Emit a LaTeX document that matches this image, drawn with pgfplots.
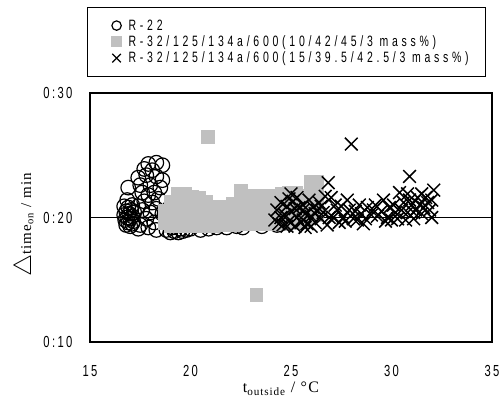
\documentclass[border=0pt]{standalone}
\usepackage{fontspec}
\setmainfont{Liberation Sans}
\newfontfamily\tickfont{Liberation Sans}[FakeStretch=0.7,LetterSpace=15]
\newfontfamily\legfont{Liberation Sans}[FakeStretch=0.7,LetterSpace=25]
\newfontfamily\labfont{Liberation Serif}[LetterSpace=8]
\usepackage{pgfplots}
\pgfplotsset{compat=1.18}
\definecolor{sq}{RGB}{192,192,192}
\begin{document}
\begin{tikzpicture}
\path[use as bounding box] (-90pt,-57pt) rectangle (410pt,342pt);
\begin{axis}[
  scale only axis, width=402pt, height=249pt,
  xmin=15, xmax=35, ymin=10, ymax=30,
  xtick={15,20,25,30,35}, ytick={10,20,30}, yticklabels={0:10,0:20,0:30},
  major tick length=0pt,
  axis line style={line width=2.5pt},
  ymajorgrids, grid style={black, line width=0.8pt},
  /pgf/number format/assume math mode=true,
  xticklabel style={font=\tickfont\fontsize{16}{16}\selectfont, yshift=-20pt},
  yticklabel style={font=\tickfont\fontsize{16}{16}\selectfont, xshift=-14pt},
  xlabel={t\textsubscript{outside} / °C},
  xlabel style={font=\labfont\fontsize{16}{16}\selectfont, at={(axis description cs:0.475,0)}, anchor=center, yshift=-47pt},
  ylabel={{\fontsize{26}{26}\selectfont$\triangle$}time\textsubscript{on} / min},
  ylabel style={font=\labfont\fontsize{15}{15}\selectfont, at={(axis description cs:-0.162,0.47)}, anchor=center},
  legend style={at={(axis description cs:0,1)}, anchor=north west, xshift=-3pt, yshift=86pt,
    font=\legfont\fontsize{15}{15}\selectfont, draw=black, line width=1.2pt, row sep=0pt,
    column sep=5pt, inner xsep=15pt, inner ysep=10pt},
  legend cell align=left,
  legend image code/.code={\path[draw=none,fill=none] (-14pt,0pt) -- (5pt,0pt); \draw[#1] plot coordinates {(0pt,0pt)};},
]
\addlegendimage{only marks, mark=o, mark size=4.7pt, line width=1.2pt, black}
\addlegendentry{R-22}
\addlegendimage{only marks, mark=square*, mark size=5pt, sq}
\addlegendentry{R-32/125/134a/600(10/42/45/3 mass\%)}
\addlegendimage{only marks, mark=x, mark size=6pt, line width=1.3pt, black}
\addlegendentry{R-32/125/134a/600(15/39.5/42.5/3 mass\%)}

% R-22
\addplot[forget plot, only marks, mark=o, mark size=7.3pt, line width=1.2pt, black] coordinates {
(16.7,20.2)(16.75,19.8)(16.8,20.5)(16.85,20.0)(16.9,19.6)(16.95,20.3)(17.0,19.9)(17.05,20.6)
(17.1,20.1)(17.15,19.7)(16.8,19.4)(17.0,19.3)(17.2,20.4)(16.9,20.8)(17.1,19.5)
(16.85,21.4)(16.9,22.4)(16.7,20.9)(17.1,21.0)
(17.4,23.2)(17.8,23.4)(18.3,23.3)(18.6,23.0)(17.5,22.6)(18.0,22.6)(18.5,22.4)(17.6,22.0)
(17.9,21.8)(18.2,22.0)(17.7,21.3)(18.1,21.2)(18.4,21.5)(17.6,20.6)(18.0,20.4)(18.3,20.7)
(18.6,20.3)(17.8,19.9)(18.2,19.6)(17.5,19.4)(17.4,20.9)
(17.9,24.3)(18.3,24.4)(18.6,24.2)(17.7,23.9)(18.1,23.8)
(17.4,19.1)(17.9,19.2)(18.3,19.0)
(18.8,19.0)(19.0,18.8)(19.2,18.9)(19.4,18.8)(19.6,18.9)(19.8,19.0)(20.0,19.1)(19.1,19.2)(19.5,19.1)
(20.5,19.0)(20.9,19.1)(21.3,19.2)(21.8,19.2)(22.3,19.3)(22.6,19.2)(23.55,19.3)(24.3,19.4)
};
% mixture 1
\addplot[forget plot, only marks, mark=square*, mark size=6.3pt, sq] coordinates {
(18.7,19.6)(18.7,20.2)(18.7,20.6)
(19.0,19.3)(19.0,19.9)(19.0,20.5)(19.0,21.1)(19.0,21.3)
(19.35,19.3)(19.35,19.9)(19.35,20.5)(19.35,21.1)(19.35,21.7)(19.35,21.9)
(19.7,19.3)(19.7,19.9)(19.7,20.5)(19.7,21.1)(19.7,21.7)(19.7,21.9)
(20.05,19.4)(20.05,20.0)(20.05,20.6)(20.05,21.2)(20.05,21.7)
(20.4,19.3)(20.4,19.9)(20.4,20.5)(20.4,21.1)(20.4,21.6)
(20.75,19.3)(20.75,19.9)(20.75,20.5)(20.75,21.1)(20.75,21.3)
(21.1,19.3)(21.1,19.9)(21.1,20.5)(21.1,20.9)
(21.45,19.4)(21.45,20.0)(21.45,20.6)(21.45,20.9)
(21.8,19.4)(21.8,20.0)(21.8,20.6)(21.8,20.9)
(22.1,19.4)(22.1,20.0)(22.1,20.6)(22.1,21.1)
(22.5,19.5)(22.5,20.1)(22.5,20.7)(22.5,21.3)(22.5,21.9)(22.5,22.2)
(22.8,19.5)(22.8,20.1)(22.8,20.7)(22.8,21.3)(22.8,21.8)
(23.15,19.5)(23.15,20.1)(23.15,20.7)(23.15,21.3)(23.15,21.8)
(23.5,19.5)(23.5,20.1)(23.5,20.7)(23.5,21.3)(23.5,21.8)
(23.85,19.5)(23.85,20.1)(23.85,20.7)(23.85,21.3)(23.85,21.8)
(24.2,19.5)(24.2,20.1)(24.2,20.7)(24.2,21.3)(24.2,21.8)
(24.55,19.5)(24.55,20.1)(24.55,20.7)(24.55,21.3)(24.55,21.9)
(24.9,19.6)(24.9,20.2)(24.9,20.8)(24.9,21.4)(24.9,22.0)
(25.25,19.6)(25.25,20.2)(25.25,20.8)(25.25,21.4)(25.25,22.0)
(25.6,19.7)(25.6,20.3)(25.6,20.9)(25.6,21.5)(25.6,21.8)
(25.95,20.0)(25.95,20.6)(25.95,21.2)(25.95,21.8)(25.95,22.4)(25.95,22.9)
(26.3,20.2)(26.3,20.8)(26.3,21.4)(26.3,22.0)(26.3,22.6)(26.3,22.9)
(20.87,26.47)(23.26,13.78)
};
% mixture 2
\addplot[forget plot, only marks, mark=x, mark size=9pt, line width=1.5pt, black] coordinates {
(24.2,19.8)(24.3,20.6)(24.5,21.2)(24.6,19.4)(24.7,20.2)(24.8,20.9)(24.9,19.7)(25.0,20.5)
(25.1,21.3)(25.2,19.3)(25.3,20.0)(25.4,20.8)(25.5,19.6)(25.6,21.0)(25.7,20.3)(25.8,19.5)
(25.9,21.4)(26.0,20.1)(26.1,20.8)(26.2,19.6)(26.3,20.6)(26.4,21.2)(26.5,19.9)(26.6,20.4)
(26.7,21.7)(26.85,22.8)(24.4,19.5)(24.9,21.5)(25.3,21.6)(25.7,19.2)(26.9,20.0)(27.0,21.6)(26.0,19.3)
(24.5,20.0)(24.8,19.3)(25.2,20.7)(25.6,20.6)(26.2,20.3)(26.5,20.9)(26.8,19.4)(25.0,21.9)
(27.1,20.0)(27.3,20.6)(27.6,20.0)(27.8,21.4)(27.9,20.6)(28.1,19.9)(28.3,19.8)(28.5,20.3)
(28.8,20.8)(29.1,20.6)(29.3,20.1)(29.6,21.4)(29.8,20.0)(29.9,20.8)(30.2,20.4)(30.4,22.0)
(30.6,21.2)(30.8,20.4)(30.9,23.3)(31.0,21.0)(31.1,19.9)(31.3,21.6)(31.5,20.3)(31.6,20.8)
(31.8,21.2)(32.0,21.4)(32.1,22.2)(28.0,25.9)(25.6,19.8)(27.4,19.6)(28.6,19.5)(30.0,19.8)(31.2,20.6)
(27.2,21.0)(27.5,20.9)(27.7,19.7)(28.2,20.5)(28.4,21.0)(28.7,19.9)(29.0,20.2)(29.2,21.0)
(29.5,20.5)(29.7,19.7)(30.1,21.0)(30.3,19.9)(30.5,20.6)(30.7,19.8)(30.9,21.4)(31.1,20.4)
(31.4,21.0)(31.7,21.6)(31.9,20.6)(32.0,20.0)(30.8,21.9)(31.5,21.9)
};
\end{axis}
\end{tikzpicture}
\end{document}
